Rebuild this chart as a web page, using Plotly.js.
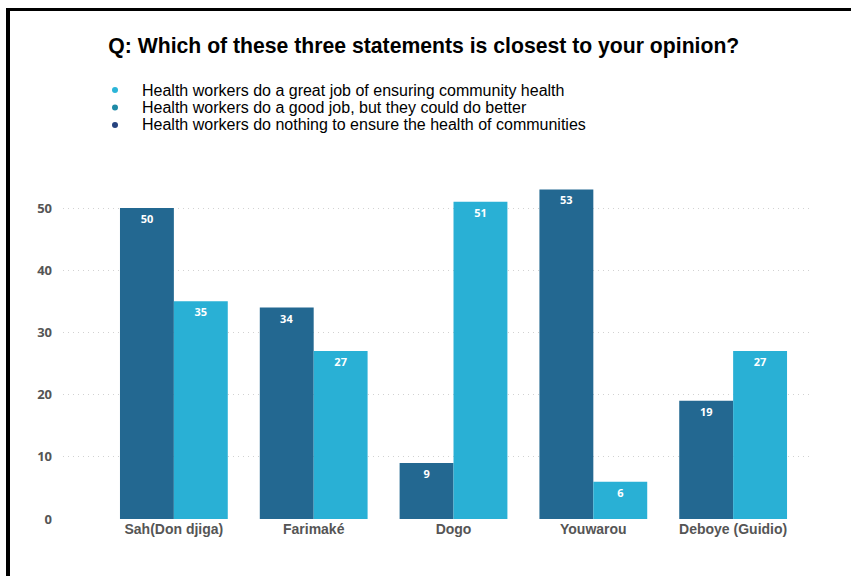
<!DOCTYPE html>
<html>
<head>
<meta charset="utf-8">
<script src="https://cdn.plot.ly/plotly-3.0.1.min.js"></script>
<style>
  html, body { margin: 0; padding: 0; background: #fff; }
  #wrap { position: relative; width: 851px; height: 576px; }
  #chart { width: 851px; height: 576px; }
  #frame { position: absolute; left: 6px; top: 8px; width: 845px; height: 568px;
           border-top: 3px solid #000; border-left: 4px solid #000; box-sizing: border-box;
           pointer-events: none; }
</style>
</head>
<body>
<div id="wrap">
  <div id="chart"></div>
  <div id="frame"></div>
</div>
<script>
const categories = ["Sah(Don djiga)", "Farimaké", "Dogo", "Youwarou", "Deboye (Guidio)"];
const darkValues = [50, 34, 9, 53, 19];
const lightValues = [35, 27, 51, 6, 27];
const legendLabels = [
  "Health workers do a great job of ensuring community health",
  "Health workers do a good job, but they could do better",
  "Health workers do nothing to ensure the health of communities"
];
const legendColors = ["#2bb5d8", "#1f8aa6", "#26437f"];
const yTicks = [0, 10, 20, 30, 40, 50];

// plot-area geometry (pixels) used to place the legend
const PL = 63, PR = 812, PT = 177, PB = 519;
const px2x = p => (p - PL) / (PR - PL);
const py2y = p => (PB - p) / (PB - PT);

const labelFont = { family: "Open Sans, Arial, sans-serif", size: 11, color: "#ffffff", weight: 700 };

const traces = [
  {
    type: "bar", x: categories, y: darkValues, text: darkValues.map(String),
    marker: { color: "#236891" }, textposition: "inside", insidetextanchor: "end",
    textangle: 0, constraintext: "none", textfont: labelFont, showlegend: false,
    hoverinfo: "skip"
  },
  {
    type: "bar", x: categories, y: lightValues, text: lightValues.map(String),
    marker: { color: "#29b0d5" }, textposition: "inside", insidetextanchor: "end",
    textangle: 0, constraintext: "none", textfont: labelFont, showlegend: false,
    hoverinfo: "skip"
  }
];

const legendRowsY = [90, 107.5, 125];
const annotations = legendLabels.map((lab, i) => ({
  text: lab, xref: "paper", yref: "paper",
  x: px2x(140), y: py2y(legendRowsY[i]), xanchor: "left", yanchor: "middle",
  showarrow: false,
  font: { family: "Liberation Sans, Arial, sans-serif", size: 16, color: "#000" }
}));
const shapes = legendColors.map((c, i) => ({
  type: "circle", xref: "paper", yref: "paper",
  x0: px2x(112), x1: px2x(118), y0: py2y(legendRowsY[i] + 3), y1: py2y(legendRowsY[i] - 3),
  fillcolor: c, line: { width: 0 }
}));

const layout = {
  width: 851, height: 576,
  margin: { l: PL, r: 851 - PR, t: PT, b: 576 - PB },
  paper_bgcolor: "#ffffff", plot_bgcolor: "#ffffff",
  barmode: "group", bargap: 0.229, bargroupgap: 0,
  title: {
    text: "Q: Which of these three statements is closest to your opinion?",
    font: { family: "Liberation Sans, Arial, sans-serif", size: 21.2, color: "#000", weight: 700 },
    x: 0.498, xanchor: "center", xref: "container",
    y: 1 - 46 / 576, yanchor: "middle", yref: "container"
  },
  xaxis: {
    range: [-0.793, 4.564], showgrid: false, zeroline: false, showline: false,
    ticks: "", tickfont: { family: "Liberation Sans Narrow, Arial Narrow, Arial, sans-serif", size: 14, color: "#555", weight: 700 },
    fixedrange: true
  },
  yaxis: {
    range: [0, 55], tickvals: yTicks, showgrid: true, gridcolor: "#d2d2d2", griddash: "1px,4px",
    gridwidth: 1, zeroline: false, showline: false, ticks: "",
    tickfont: { family: "Open Sans, Arial, sans-serif", size: 13, color: "#555", weight: 700 },
    ticklabelstandoff: 10, fixedrange: true
  },
  annotations: annotations,
  shapes: shapes,
  showlegend: false
};

Plotly.newPlot("chart", traces, layout, { displayModeBar: false, staticPlot: true });
</script>
</body>
</html>
